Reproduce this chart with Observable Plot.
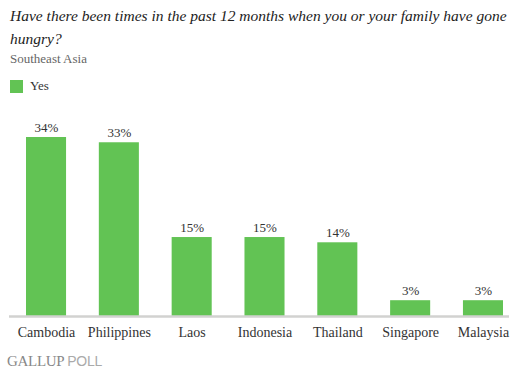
<!DOCTYPE html>
<html>
<head>
<meta charset="utf-8">
<script src="https://cdn.jsdelivr.net/npm/d3@7"></script>
<script src="https://cdn.jsdelivr.net/npm/@observablehq/plot@0.6"></script>
<style>
  html, body { margin: 0; padding: 0; background: #fff; }
  #wrap { position: relative; width: 526px; height: 373px; overflow: hidden; font-family: "Liberation Serif", serif; }
  #title { position: absolute; left: 10px; top: 4px; white-space: nowrap; font-style: italic; font-size: 15.5px; line-height: 23px; color: #222; }
  #subtitle { position: absolute; left: 10px; top: 51px; font-size: 13px; color: #666; }
  #legend { position: absolute; left: 10px; top: 78px; font-size: 13px; color: #333; display: flex; align-items: center; }
  #legend .sw { width: 13px; height: 13px; background: #62c354; margin-right: 7px; }
  #chart { position: absolute; left: 0; top: 100px; }
  #footer { position: absolute; left: 7px; top: 353px; font-size: 15px; color: #888; letter-spacing: -0.3px; }
  #footer .poll { font-family: "Liberation Sans", sans-serif; font-size: 14px; color: #aaa; }
</style>
</head>
<body>
<div id="wrap">
  <div id="title">Have there been times in the past 12 months when you or your family have gone<br>hungry?</div>
  <div id="subtitle">Southeast Asia</div>
  <div id="legend"><span class="sw"></span><span>Yes</span></div>
  <div id="chart"></div>
  <div id="footer">GALLUP <span class="poll">POLL</span></div>
</div>
<script>
const countries = ["Cambodia", "Philippines", "Laos", "Indonesia", "Thailand", "Singapore", "Malaysia"];
const yes = [34, 33, 15, 15, 14, 3, 3];

const data = countries.map((c, i) => ({country: c, value: yes[i]}));

const chart = Plot.plot({
  width: 526,
  height: 245,
  marginLeft: 26,
  marginRight: 23,
  marginTop: 37,
  marginBottom: 29,
  style: {fontFamily: "Liberation Serif, serif", fontSize: "13px", color: "#333", background: "transparent"},
  x: {domain: countries, paddingInner: 0.45, paddingOuter: 0, round: false, label: null},
  y: {domain: [0, 34], axis: null},
  marks: [
    Plot.barY(data, {x: "country", y: "value", fill: "#62c354"}),
    Plot.ruleY([0], {stroke: "#d2d2d0", strokeWidth: 2.5, insetLeft: -17, insetRight: -6}),
    Plot.text(data, {x: "country", y: "value", text: d => d.value + "%", dy: -10, fill: "#333", fontSize: 13}),
    Plot.axisX({tickSize: 0, tickPadding: 11, fontSize: 14, label: null, fill: "#333"})
  ]
});
document.getElementById("chart").appendChild(chart);
</script>
</body>
</html>
